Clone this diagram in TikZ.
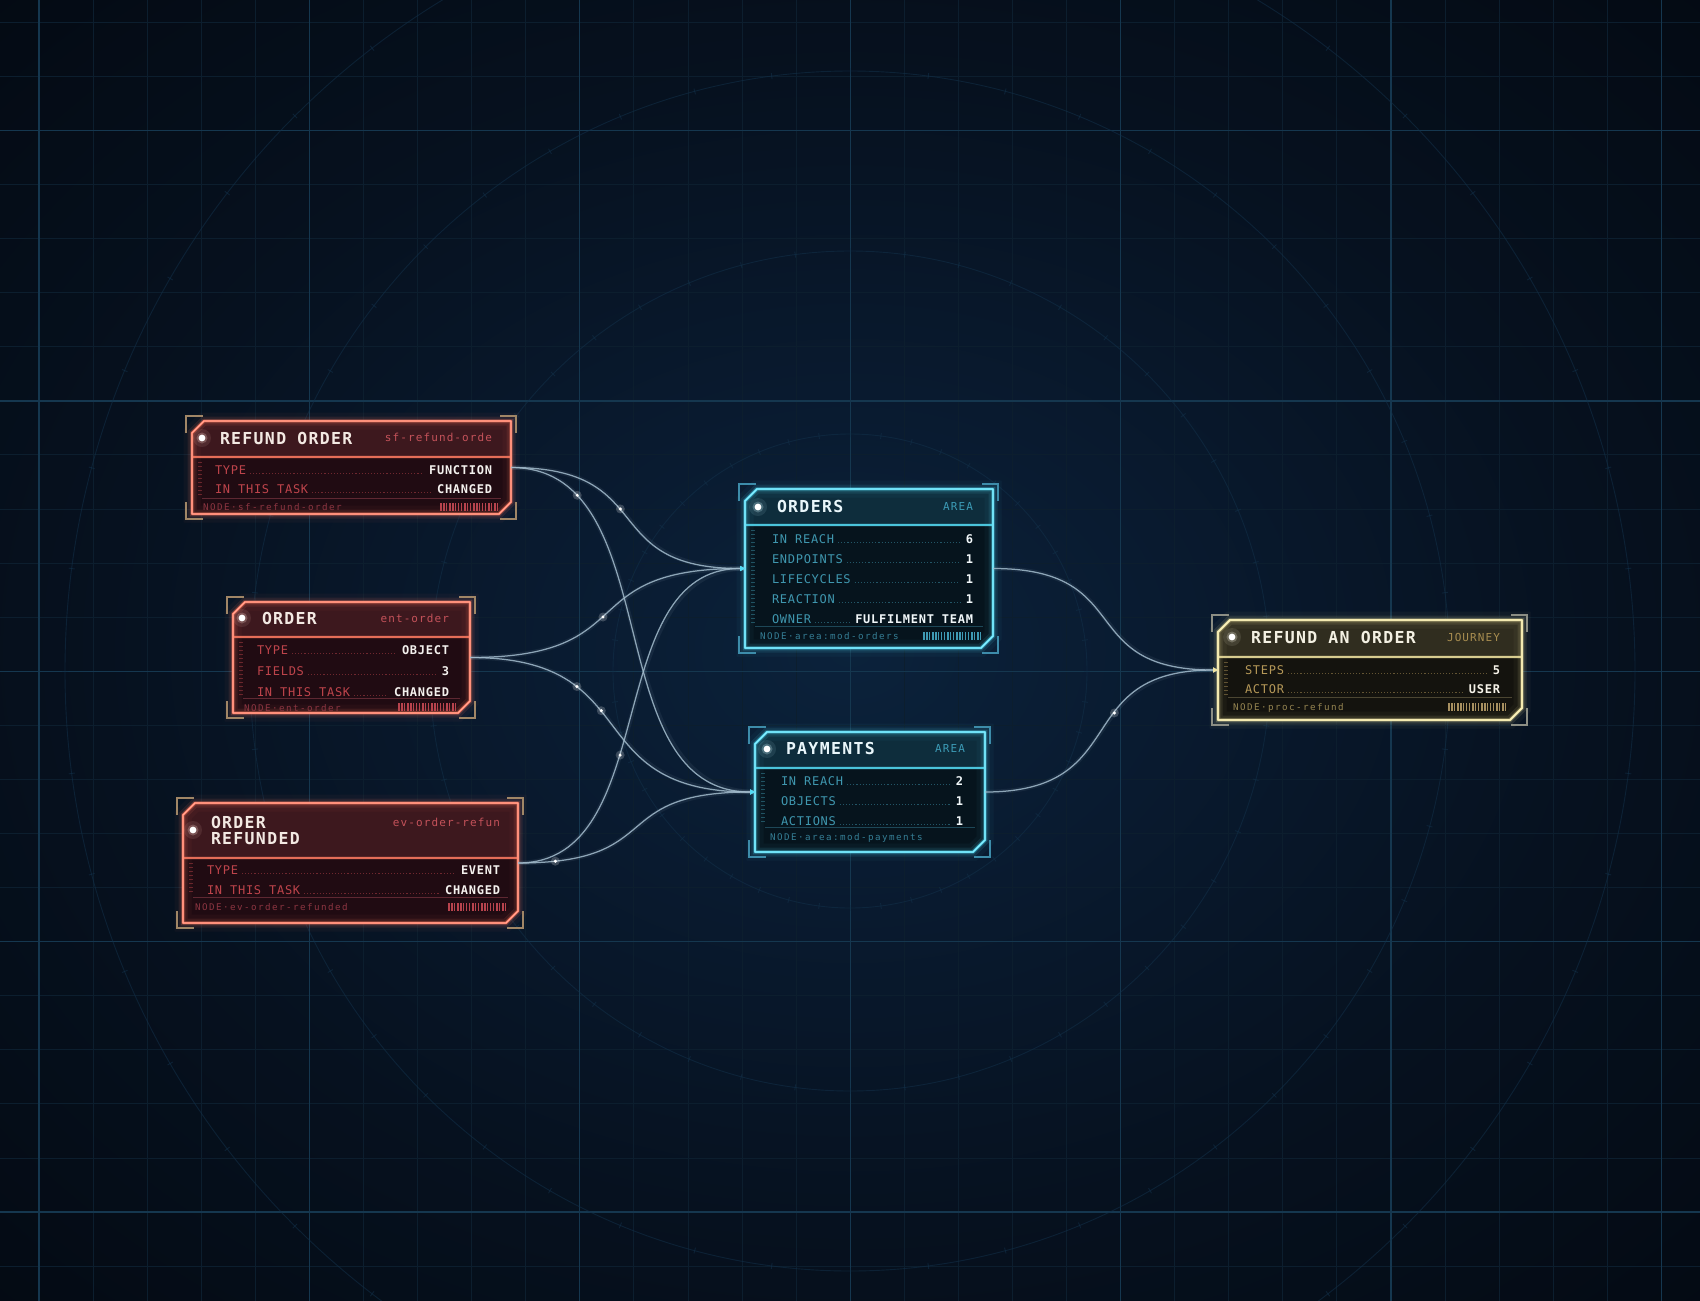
\documentclass[tikz,border=0pt]{standalone}
\usepackage{fontspec}
\usetikzlibrary{arrows.meta}
\setmainfont{DejaVu Sans Mono}
\newfontfamily\monoT[LetterSpace=8]{DejaVu Sans Mono}
\newfontfamily\monoL[LetterSpace=6]{DejaVu Sans Mono}
\newfontfamily\monoI[LetterSpace=10]{DejaVu Sans Mono}
\newfontfamily\monoF[LetterSpace=16]{DejaVu Sans Mono}

\definecolor{bg0}{HTML}{0B223B}
\definecolor{bg1}{HTML}{091A2F}
\definecolor{bg2}{HTML}{06111F}
\definecolor{bg3}{HTML}{040A13}
\definecolor{bg4}{HTML}{02050A}
\definecolor{gridmaj}{HTML}{15374F}
\definecolor{gridmin}{HTML}{0C1E2E}
\definecolor{circc}{HTML}{123049}
\definecolor{linkc}{HTML}{A3BCCD}

\definecolor{rBd}{HTML}{FF7B62}\definecolor{rHd}{HTML}{3D181E}\definecolor{rBg}{HTML}{200B12}
\definecolor{rTt}{HTML}{F3E9E3}\definecolor{rLb}{HTML}{BE444B}\definecolor{rVl}{HTML}{F4F1EE}
\definecolor{rId}{HTML}{C4525A}\definecolor{rFt}{HTML}{8C3541}\definecolor{rLd}{HTML}{5E2832}
\definecolor{rBr}{HTML}{A08666}\definecolor{rBc}{HTML}{B8434D}

\definecolor{cBd}{HTML}{55DDF6}\definecolor{cHd}{HTML}{0E2D3C}\definecolor{cBg}{HTML}{06141D}
\definecolor{cTt}{HTML}{E9F6FA}\definecolor{cLb}{HTML}{3F97AF}\definecolor{cVl}{HTML}{F1F7F9}
\definecolor{cId}{HTML}{3C9BB6}\definecolor{cFt}{HTML}{357E95}\definecolor{cLd}{HTML}{1D4757}
\definecolor{cBr}{HTML}{3D8CAA}\definecolor{cBc}{HTML}{3E9AB4}

\definecolor{gBd}{HTML}{F2E6A2}\definecolor{gHd}{HTML}{302D1F}\definecolor{gBg}{HTML}{14130E}
\definecolor{gTt}{HTML}{F3F0E2}\definecolor{gLb}{HTML}{B59858}\definecolor{gVl}{HTML}{F6F3E9}
\definecolor{gId}{HTML}{A88D50}\definecolor{gFt}{HTML}{968551}\definecolor{gLd}{HTML}{4C4632}
\definecolor{gBr}{HTML}{8C8E84}\definecolor{gBc}{HTML}{A89060}

\pgfdeclareradialshading{bgglow}{\pgfpoint{0bp}{0bp}}{color(0bp)=(bg0); color(10bp)=(bg1); color(22bp)=(bg2); color(36bp)=(bg3); color(50bp)=(bg4)}

\newcommand\hudtheme[1]{%
  \colorlet{bdc}{#1Bd}\colorlet{hdc}{#1Hd}\colorlet{bgc}{#1Bg}\colorlet{ttc}{#1Tt}%
  \colorlet{lbc}{#1Lb}\colorlet{vlc}{#1Vl}\colorlet{idc}{#1Id}\colorlet{ftc}{#1Ft}%
  \colorlet{ldc}{#1Ld}\colorlet{brc}{#1Br}\colorlet{bcc}{#1Bc}}

\tikzset{
  ttl/.style={inner sep=0,outer sep=0,text=ttc,font=\monoT\bfseries\fontsize{16.5}{18}\selectfont},
  idt/.style={inner sep=0,outer sep=0,text=idc,font=\monoI\fontsize{11}{12}\selectfont},
  lab/.style={inner sep=0,outer sep=0,text=lbc,font=\monoL\fontsize{12}{13}\selectfont},
  val/.style={inner sep=0,outer sep=0,text=vlc,font=\monoL\bfseries\fontsize{12}{13}\selectfont},
  ftt/.style={inner sep=0,outer sep=0,text=ftc,font=\monoF\fontsize{9.2}{10}\selectfont},
  leader/.style={draw=lbc,opacity=.5,line width=1.1pt,dash pattern=on 1.1pt off 2pt},
  gridminor/.style={draw=gridmin,line width=.9pt},
  gridmajor/.style={draw=gridmaj,line width=1.3pt},
  circ/.style={draw=circc,line width=.9pt,opacity=.55},
  conn/.style={draw=linkc,line width=1.25pt,opacity=.85},
  connglow/.style={draw=linkc,line width=4.5pt,opacity=.08},
  frame/.style={draw=bdc,line width=2.2pt,line join=round,
    preaction={draw=bdc,line width=17pt,opacity=.04},
    preaction={draw=bdc,line width=9pt,opacity=.1},
    preaction={draw=bdc,line width=4.5pt,opacity=.22},
    postaction={draw=white,line width=.6pt,opacity=.45}},
  bracket/.style={draw=brc,line width=1.6pt},
  boxnode/.style={inner sep=0,outer sep=0,draw=none}
}

% name, x1, y1, x2, y2, separator y, footer line y
\newcommand\hudframe[7]{%
  \path[fill=bgc] ({#2+12},#3) -- (#4,#3) -- (#4,{#5-12}) -- ({#4-12},#5) -- (#2,#5) -- (#2,{#3+12}) -- cycle;
  \path[fill=hdc] ({#2+12},#3) -- (#4,#3) -- (#4,#6) -- (#2,#6) -- (#2,{#3+12}) -- cycle;
  \draw[bdc,line width=4pt,opacity=.12] (#2,#6) -- (#4,#6);
  \draw[bdc,line width=1.4pt,opacity=.85] (#2,#6) -- (#4,#6);
  \draw[ldc,line width=1pt] ({#2+10},#7) -- ({#4-10},#7);
  \pgfmathtruncatemacro\hudnt{(#7-#6-8)/4}%
  \foreach \k in {0,...,\hudnt} {\draw[lbc,opacity=.45,line width=.8pt] ({#2+6},{#6+5+4*\k}) -- ({#2+10},{#6+5+4*\k});}
  \draw[frame] ({#2+12},#3) -- (#4,#3) -- (#4,{#5-12}) -- ({#4-12},#5) -- (#2,#5) -- (#2,{#3+12}) -- cycle;
  \draw[bracket] ({#2-6},{#3+12}) -- ({#2-6},{#3-5}) -- ({#2+11},{#3-5});
  \draw[bracket] ({#4-11},{#3-5}) -- ({#4+5},{#3-5}) -- ({#4+5},{#3+12});
  \draw[bracket] ({#2-6},{#5-12}) -- ({#2-6},{#5+5}) -- ({#2+11},{#5+5});
  \draw[bracket] ({#4-11},{#5+5}) -- ({#4+5},{#5+5}) -- ({#4+5},{#5-12});
  \node[boxnode,minimum width={(#4-#2)*1pt},minimum height={(#5-#3)*1pt}] (#1) at ({(#2+#4)/2},{(#3+#5)/2}) {};
}
\newcommand\hudot[2]{%
  \fill[bdc!40!white,opacity=.10] (#1,#2) circle (9);
  \fill[bdc!30!white,opacity=.25] (#1,#2) circle (5.5);
  \fill[white] (#1,#2) circle (3.4);
}
% name, label x, value right x, y centre, label, value
\newcommand\hudrow[6]{%
  \node[lab,anchor=base west] (#1L) at (#2,{#4+4.4}) {#5};
  \node[val,anchor=base east] (#1V) at (#3,{#4+4.4}) {#6};
  \draw[leader] ([xshift=4pt,yshift=.8pt]#1L.base east) -- ([xshift=-6pt,yshift=.8pt]#1V.base west);
}
\newcommand\barcode[2]{%
  \foreach \i/\w in {0/1.6,1/1.6,2/.9,3/1.6,4/1.6,5/.9,6/.9,7/.9,8/1.6,9/.9,10/.9,11/1.6,12/1.6,13/.9,14/.9,15/.9,16/1.6,17/.9,18/1.6,19/.9}
    {\fill[bcc] ({#1+3*\i},{#2-4}) rectangle ++(\w,8);}
}
% from, to, control length, tip colour
\newcommand\hudlink[4]{%
  \draw[connglow] (#1.east) .. controls +(#3,0) and +(-#3,0) .. (#2.west);
  \draw[conn,-{Triangle[length=5pt,width=5pt,color=#4]}] (#1.east) .. controls +(#3,0) and +(-#3,0) .. (#2.west);
}
% from, to, control length, pos, coordinate name
\newcommand\hudspark[5]{%
  \path (#1.east) .. controls +(#3,0) and +(-#3,0) .. (#2.west) coordinate[pos=#4] (#5);
  \fill[white,opacity=.2] (#5) circle (4.5);
  \fill[white] (#5) circle (1.7);
}

\begin{document}
\begin{tikzpicture}[x=1pt,y=-1pt]
\useasboundingbox (0,0) rectangle (1700,1301);
\shade[shading=bgglow] (0,0) rectangle (1700,1301);

% grid
\foreach \i in {0,...,31} {\draw[gridminor] ({39+54.08*\i},0) -- ({39+54.08*\i},1301);}
\foreach \j in {0,...,24} {\draw[gridminor] (0,{22.3+54.08*\j}) -- (1700,{22.3+54.08*\j});}
\foreach \i in {0,...,6} {\draw[gridmajor] ({39+270.4*\i},0) -- ({39+270.4*\i},1301);}
\foreach \j in {0,...,4} {\draw[gridmajor] (0,{130.5+270.4*\j}) -- (1700,{130.5+270.4*\j});}

% concentric rings with ticks
\foreach \r in {237,420,600,785} {
  \draw[circ] (850,671) circle (\r);
  \pgfmathsetmacro\ri{\r-3}
  \foreach \a in {0,7.5,...,352.5} {\draw[circ] (850,671) ++(\a:\ri) -- ++(\a:6);}
}

% ---------- REFUND ORDER ----------
\hudtheme{r}
\hudframe{ro}{192}{421}{511}{514}{457}{498}
\hudot{202}{438}
\node[ttl,anchor=base west] (roT) at (220,444) {REFUND ORDER};
\node[idt,anchor=base east] (roI) at (492,441) {sf-refund-orde};
\hudrow{roA}{215}{492}{470}{TYPE}{FUNCTION}
\hudrow{roB}{215}{492}{489}{IN THIS TASK}{CHANGED}
\node[ftt,anchor=base west] (roF) at (203,510.5) {NODE·sf-refund-order};
\barcode{440}{507}

% ---------- ORDER ----------
\hudframe{ord}{233}{602}{470}{713}{637}{698}
\hudot{242}{618}
\node[ttl,anchor=base west] (ordT) at (262,624) {ORDER};
\node[idt,anchor=base east] (ordI) at (449,622) {ent-order};
\hudrow{ordA}{257}{449}{650}{TYPE}{OBJECT}
\hudrow{ordB}{257}{449}{671}{FIELDS}{3}
\hudrow{ordC}{257}{449}{692}{IN THIS TASK}{CHANGED}
\node[ftt,anchor=base west] (ordF) at (244,711.5) {NODE·ent-order};
\barcode{398}{707}

% ---------- ORDER REFUNDED ----------
\hudframe{orf}{183}{803}{518}{923}{858}{897}
\hudot{193}{830}
\node[ttl,anchor=base west] (orfT) at (211,828) {ORDER};
\node[ttl,anchor=base west] (orfT2) at (211,844.5) {REFUNDED};
\node[idt,anchor=base east] (orfI) at (500,826) {ev-order-refun};
\hudrow{orfA}{207}{500}{870}{TYPE}{EVENT}
\hudrow{orfB}{207}{500}{890}{IN THIS TASK}{CHANGED}
\node[ftt,anchor=base west] (orfF) at (195,910.5) {NODE·ev-order-refunded};
\barcode{448}{907}

% ---------- ORDERS ----------
\hudtheme{c}
\hudframe{orders}{745}{489}{993}{648}{525}{626}
\hudot{758}{507}
\node[ttl,anchor=base west] (ordersT) at (777,512) {ORDERS};
\node[idt,anchor=base east] (ordersI) at (973,510) {AREA};
\hudrow{ordersA}{772}{973}{539}{IN REACH}{6}
\hudrow{ordersB}{772}{973}{559}{ENDPOINTS}{1}
\hudrow{ordersC}{772}{973}{579}{LIFECYCLES}{1}
\hudrow{ordersD}{772}{973}{599}{REACTION}{1}
\hudrow{ordersE}{772}{973}{619}{OWNER}{FULFILMENT TEAM}
\node[ftt,anchor=base west] (ordersF) at (760,639.5) {NODE·area:mod-orders};
\barcode{923}{636}

% ---------- PAYMENTS ----------
\hudframe{pay}{755}{732}{985}{852}{768}{827}
\hudot{767}{749}
\node[ttl,anchor=base west] (payT) at (786,754) {PAYMENTS};
\node[idt,anchor=base east] (payI) at (965,752) {AREA};
\hudrow{payA}{781}{963}{781}{IN REACH}{2}
\hudrow{payB}{781}{963}{801}{OBJECTS}{1}
\hudrow{payC}{781}{963}{821}{ACTIONS}{1}
\node[ftt,anchor=base west] (payF) at (770,840.5) {NODE·area:mod-payments};

% ---------- REFUND AN ORDER ----------
\hudtheme{g}
\hudframe{rao}{1218}{620}{1522}{720}{657}{697}
\hudot{1232}{637}
\node[ttl,anchor=base west] (raoT) at (1251,643) {REFUND AN ORDER};
\node[idt,anchor=base east] (raoI) at (1500,641) {JOURNEY};
\hudrow{raoA}{1245}{1500}{670}{STEPS}{5}
\hudrow{raoB}{1245}{1500}{689}{ACTOR}{USER}
\node[ftt,anchor=base west] (raoF) at (1233,710.5) {NODE·proc-refund};
\barcode{1448}{707}

% ---------- connectors ----------
\hudlink{ro}{orders}{150}{cBd}
\hudlink{ro}{pay}{160}{cBd}
\hudlink{ord}{orders}{175}{cBd}
\hudlink{ord}{pay}{180}{cBd}
\hudlink{orf}{orders}{145}{cBd}
\hudlink{orf}{pay}{150}{cBd}
\hudlink{orders}{rao}{145}{gBd}
\hudlink{pay}{rao}{150}{gBd}

\hudspark{ro}{orders}{150}{.44}{s1}
\hudspark{ro}{pay}{160}{.18}{s2}
\hudspark{ord}{orders}{175}{.47}{s3}
\hudspark{ord}{pay}{180}{.30}{s4}
\hudspark{ord}{pay}{180}{.43}{s5}
\hudspark{orf}{orders}{145}{.41}{s6}
\hudspark{orf}{pay}{150}{.095}{s7}
\hudspark{pay}{rao}{150}{.60}{s8}
\end{tikzpicture}
\end{document}
